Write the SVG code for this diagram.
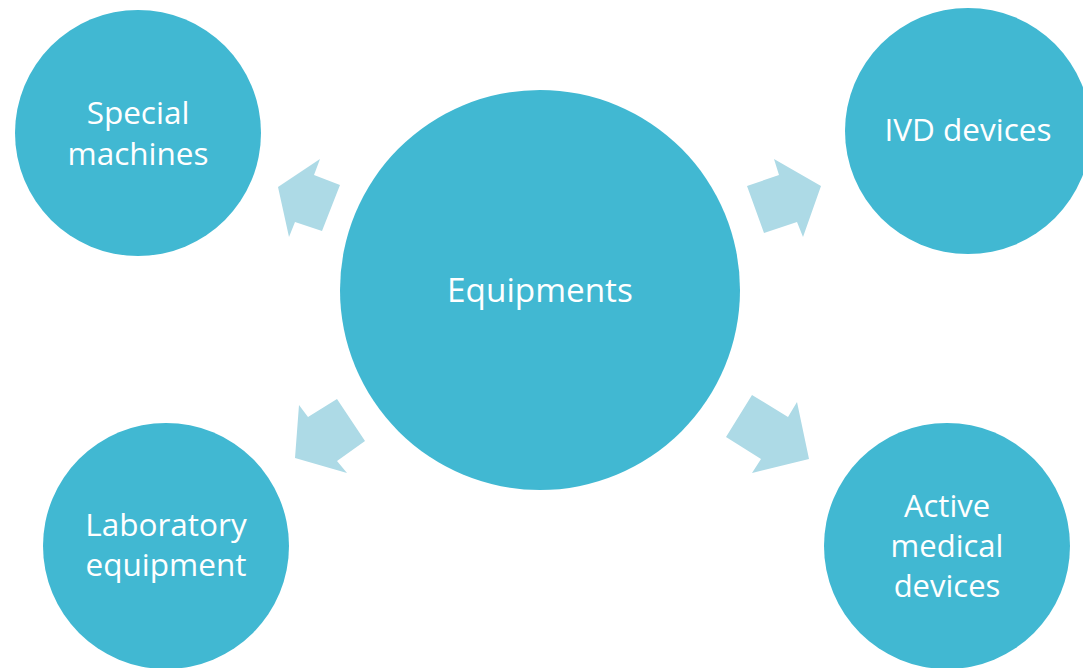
<svg xmlns="http://www.w3.org/2000/svg" width="1083" height="668" viewBox="0 0 1083 668">
<style>
.c{fill:#41B8D2}
.a{fill:#ADDAE6}
text{font-family:"Open Sans","Noto Sans",sans-serif;fill:#FFFFFF;text-anchor:middle;font-size:31.5px}
</style>
<rect width="1083" height="668" fill="#FFFFFF"/>
<g id="connectors">
<polygon class="a" points="278,187 320,159 314,175 340,185 322,231 295,222 289,237"/>
<polygon class="a" points="747,186 779,175 774,159 821,186 803,237 797,222 764,233"/>
<polygon class="a" points="299,405 308,417 337,399 365,441 337,461 347,473 295,458"/>
<polygon class="a" points="752,395 788,417 797,402 809,459 752,473 761,459 726,437"/>
</g>
<g id="equipments">
<circle class="c" cx="540" cy="290" r="200"/>
<text x="540" y="302" style="font-size:33.3px">Equipments</text>
</g>
<g id="special-machines">
<circle class="c" cx="138" cy="133" r="123"/>
<text x="138" y="124">Special<tspan x="138" y="165">machines</tspan></text>
</g>
<g id="ivd-devices">
<circle class="c" cx="968" cy="131" r="123"/>
<text x="968" y="141">IVD devices</text>
</g>
<g id="laboratory-equipment">
<circle class="c" cx="166" cy="546" r="123"/>
<text x="166" y="536">Laboratory<tspan x="166" y="576">equipment</tspan></text>
</g>
<g id="active-medical-devices">
<circle class="c" cx="947" cy="546" r="123"/>
<text x="947" y="517" style="font-size:31px">Active<tspan x="947" y="557">medical</tspan><tspan x="947" y="597">devices</tspan></text>
</g>
</svg>
